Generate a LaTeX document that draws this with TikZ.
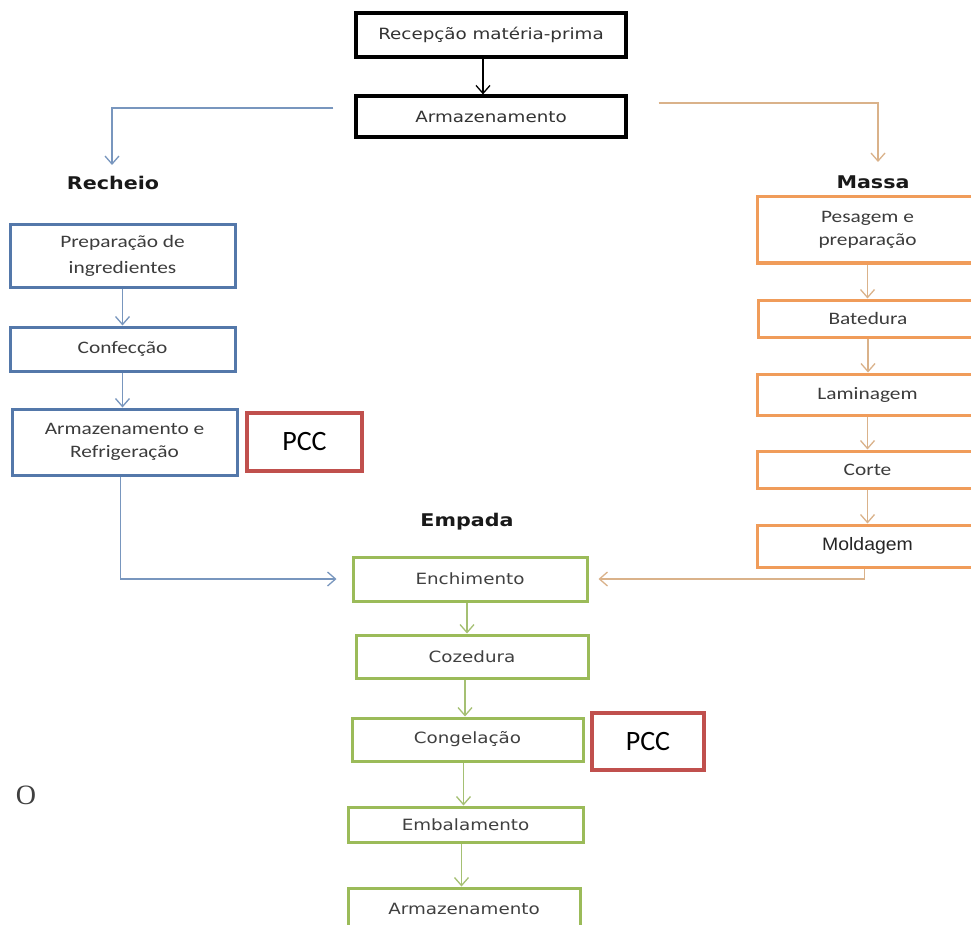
\documentclass[tikz,border=0pt]{standalone}
\usepackage{fontspec}
\usetikzlibrary{arrows.meta}
\newfontfamily\boxfont[FakeStretch=1.18]{DejaVu Sans}
\newfontfamily\stepfont[FakeStretch=1.22]{Carlito}
\newfontfamily\pccfont{Carlito}
\newfontfamily\moldfont[FakeStretch=1.08]{Liberation Sans}
\newfontfamily\ofont{Liberation Serif}
\definecolor{boxblue}{RGB}{84,120,170}
\definecolor{lineblue}{RGB}{120,150,190}
\definecolor{boxorange}{RGB}{240,156,90}
\definecolor{lineorange}{RGB}{218,178,138}
\definecolor{boxgreen}{RGB}{155,187,89}
\definecolor{linegreen}{RGB}{165,192,115}
\definecolor{pccred}{RGB}{192,80,77}
\definecolor{txtgray}{RGB}{60,60,60}

\begin{document}
\begin{tikzpicture}[x=1pt,y=-1pt,
  box/.style={draw, rectangle, inner sep=0pt, align=center, text=txtgray},
  blkbox/.style={box, line width=3.2pt, draw=black, text=black!80, font=\boxfont\fontsize{15.5}{18}\selectfont},
  bluebox/.style={box, line width=3pt, draw=boxblue, font=\stepfont\fontsize{17.5}{23}\selectfont},
  orangebox/.style={box, line width=3pt, draw=boxorange, font=\stepfont\fontsize{17.5}{23}\selectfont},
  greenbox/.style={box, line width=3pt, draw=boxgreen, text=black!75, font=\boxfont\fontsize{15.5}{18}\selectfont},
  pccbox/.style={box, line width=3.5pt, draw=pccred, text=black, font=\pccfont\fontsize{28}{30}\selectfont},
  branch/.style={font=\boxfont\bfseries\fontsize{17.5}{20}\selectfont, text=black!90},
  link/.style={line width=1.3pt, -{Straight Barb[length=8pt,width=14pt]}},
]

%\draw [step=50, dotted] (0,0) grid (971,925);
\fill [white] (0,0) rectangle (971,925);
\useasboundingbox (0,0) rectangle (971,925);
\clip (0,0) rectangle (971,925);

\node [blkbox, minimum width=270, minimum height=44] (recepcao) at (491,35) {Recepção matéria-prima};
\node [blkbox, minimum width=270, minimum height=41] (armazen) at (491,116.5) {Armazenamento};
\draw [link, black] ([xshift=-8pt]recepcao.south) -- ([xshift=-8pt]armazen.north);

\node [branch] (recheio) at (113,183) {Recheio};
\node [branch] (massa) at (873,182) {Massa};
\node [branch] (empada) at (467,522) {Empada};
\draw [link, lineblue] ([shift={(-21,-8.5)}]armazen.west) -| ([shift={(-1,-18)}]recheio.center);
\draw [link, lineorange] ([shift={(31,-13.5)}]armazen.east) -| ([shift={(5,-20)}]massa.center);

\node [bluebox, minimum width=225, minimum height=62, font=\stepfont\fontsize{17.5}{26}\selectfont] (prepar) at (122.5,256) {Preparação de\\ingredientes};
\node [bluebox, minimum width=225, minimum height=44] (confec) at (122.5,349) {Confecção};
\node [bluebox, minimum width=225, minimum height=66] (armrefr) at (124.5,442) {Armazenamento e\\Refrigeração};
\node [pccbox, minimum width=115, minimum height=58] (pcc1) at (304.5,442) {PCC};
\draw [link, lineblue] (prepar.south) -- (confec.north);
\draw [link, lineblue] (confec.south) -- (confec.south |- armrefr.north);

\node [orangebox, minimum width=221, minimum height=66] (pesagem) at (867.5,230) {Pesagem e\\preparação};
\node [orangebox, minimum width=220, minimum height=37] (batedura) at (868,318.5) {Batedura};
\node [orangebox, minimum width=221, minimum height=41] (laminag) at (867.5,394.5) {Laminagem};
\node [orangebox, minimum width=221, minimum height=37] (corte) at (867.5,469.5) {Corte};
\node [orangebox, minimum width=221, minimum height=42, text=black!85, font=\moldfont\fontsize{18}{20}\selectfont] (moldag) at (867.5,546) {Moldagem};
\draw [link, lineorange] (pesagem.south) -- (pesagem.south |- batedura.north);
\draw [link, lineorange] (batedura.south) -- (batedura.south |- laminag.north);
\draw [link, lineorange] (laminag.south) -- (corte.north);
\draw [link, lineorange] (corte.south) -- (moldag.north);

\node [greenbox, minimum width=234, minimum height=44] (enchim) at (470,579) {Enchimento};
\node [greenbox, minimum width=232, minimum height=43] (cozed) at (472,656.5) {Cozedura};
\node [greenbox, minimum width=231, minimum height=43] (congel) at (467.5,739.5) {Congelação};
\node [greenbox, minimum width=235, minimum height=35] (embal) at (465.5,824.5) {Embalamento};
\node [greenbox, minimum width=232, minimum height=42] (armfin) at (464,909) {Armazenamento};
\node [pccbox, minimum width=112, minimum height=57] (pcc2) at (648,741.5) {PCC};
\draw [link, linegreen] ([xshift=-3pt]enchim.south) -- ([xshift=-3pt]enchim.south |- cozed.north);
\draw [link, linegreen] ([xshift=-7pt]cozed.south) -- ([xshift=-7pt]cozed.south |- congel.north);
\draw [link, linegreen] ([xshift=-4pt]congel.south) -- ([xshift=-4pt]congel.south |- embal.north);
\draw [link, linegreen] ([xshift=-4pt]embal.south) -- ([xshift=-4pt]embal.south |- armfin.north);

\draw [link, lineblue] ([xshift=-4pt]armrefr.south) |- ([xshift=-15pt]enchim.west);
\draw [link, lineorange] ([xshift=-3pt]moldag.south) |- ([xshift=10pt]enchim.east);

\node [text=black!75, font=\ofont\fontsize{28}{30}\selectfont] (letra) at (26,795) {O};

\end{tikzpicture}
\end{document}
